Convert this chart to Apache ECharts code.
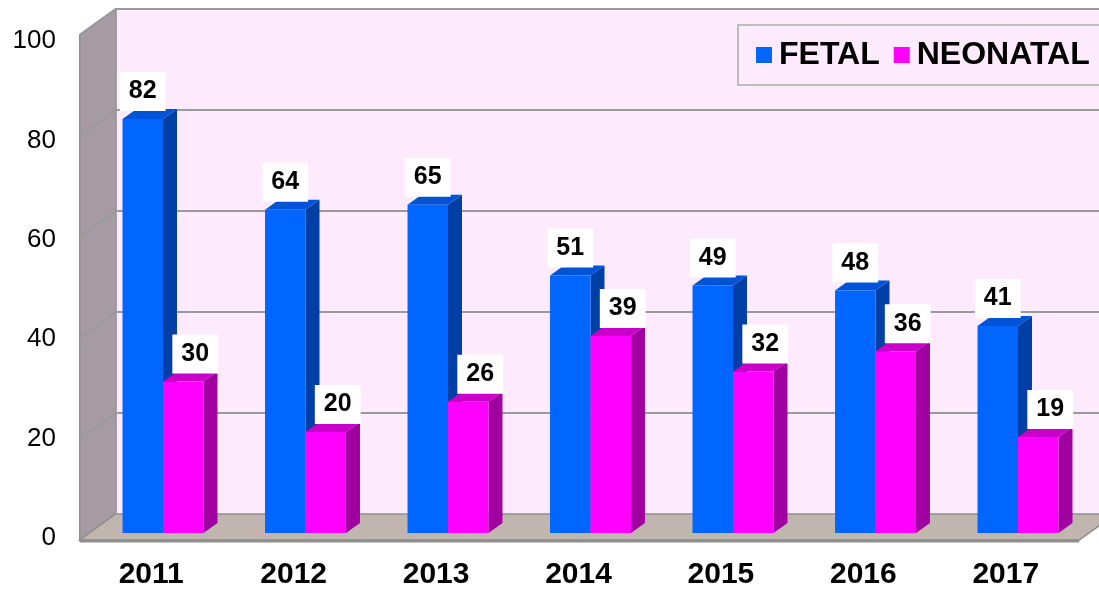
<!DOCTYPE html>
<html>
<head>
<meta charset="utf-8">
<script src="https://cdn.jsdelivr.net/npm/echarts@6/dist/echarts.min.js"></script>
<style>
  html, body { margin: 0; padding: 0; background: #fff; }
  #chart { width: 1099px; height: 590px; }
</style>
</head>
<body>
<div id="chart"></div>
<script>
// Yearly counts of fetal and neonatal deaths
const years = ['2011', '2012', '2013', '2014', '2015', '2016', '2017'];
const fetal = [82, 64, 65, 51, 49, 48, 41];
const neonatal = [30, 20, 26, 39, 32, 36, 19];
const yTicks = [0, 20, 40, 60, 80, 100];

const FONT = '"Liberation Sans", Arial, Helvetica, sans-serif';

// Oblique 3D look: pixel offsets measured from the plane the bar fronts sit in
const FRONT = [-12, 7];      // to the front edge of the box
const BACK = [24, -19];      // to the back wall
const BAR_DEPTH = [14, -10]; // thickness of each bar
const BAR_FRAC = 0.284;      // bar width as a share of one category band

const WALL = { back: '#FDEBFD', left: '#A79BA3', floor: '#C1B6AF', edge: '#8E8E8E', grid: '#9A9A9A' };

function renderBox(params, api) {
  const cs = params.coordSys;
  const yAt = v => api.coord([0, v])[1];
  const xl = cs.x, xr = cs.x + cs.width;
  const fl = xl + FRONT[0], bl = xl + BACK[0];
  const fr = xr - 10, br = fr + (BACK[0] - FRONT[0]);
  const farRight = br + 60;
  const y0 = yAt(0), y100 = yAt(100);
  const children = [];

  children.push({ type: 'polygon', shape: { points: [[bl, y100 + BACK[1]], [farRight, y100 + BACK[1]], [farRight, y0 + BACK[1]], [bl, y0 + BACK[1]]] },
    style: { fill: WALL.back } });
  children.push({ type: 'polygon', shape: { points: [[fl, y100 + FRONT[1]], [bl, y100 + BACK[1]], [bl, y0 + BACK[1]], [fl, y0 + FRONT[1]]] },
    style: { fill: WALL.left, stroke: WALL.edge, lineWidth: 1.5 } });
  children.push({ type: 'polygon', shape: { points: [[fl, y0 + FRONT[1]], [bl, y0 + BACK[1]], [br, y0 + BACK[1]], [fr, y0 + FRONT[1]]] },
    style: { fill: WALL.floor, stroke: WALL.edge, lineWidth: 1.5 } });
  children.push({ type: 'line', shape: { x1: fl, y1: y0 + FRONT[1] + 1, x2: fr, y2: y0 + FRONT[1] + 1 },
    style: { stroke: WALL.edge, lineWidth: 3 } });

  yTicks.forEach(v => {
    if (v === 0) return;
    const y = yAt(v);
    children.push({ type: 'polyline', shape: { points: [[fl, y + FRONT[1]], [bl, y + BACK[1]], [farRight, y + BACK[1]]] },
      style: { stroke: WALL.grid, lineWidth: 2.2, fill: null } });
  });
  children.push({ type: 'line', shape: { x1: bl, y1: y100 + BACK[1], x2: bl, y2: y0 + BACK[1] },
    style: { stroke: WALL.grid, lineWidth: 2 } });

  return { type: 'group', children };
}

function barRenderer(colors, leftSide, labelShift) {
  return function (params, api) {
    const idx = api.value(0), val = api.value(1);
    const base = api.coord([idx, 0]);
    const top = api.coord([idx, val]);
    const w = api.size([1, 0])[0] * BAR_FRAC;
    const x0 = leftSide ? base[0] - w : base[0];
    const x1 = x0 + w;
    const [dx, dy] = BAR_DEPTH;
    const yb = base[1], yt = top[1];
    return {
      type: 'group',
      children: [
        { type: 'polygon', shape: { points: [[x1, yb], [x1 + dx, yb + dy], [x1 + dx, yt + dy], [x1, yt]] },
          style: { fill: colors.side } },
        { type: 'polygon', shape: { points: [[x0, yt], [x0 + dx, yt + dy], [x1 + dx, yt + dy], [x1, yt]] },
          style: { fill: colors.top } },
        { type: 'rect', shape: { x: x0, y: yt, width: w, height: yb - yt },
          style: { fill: colors.front } },
        { type: 'text', z2: 100,
          style: {
            text: String(val), x: (x0 + x1) / 2 + labelShift, y: yt - 8,
            align: 'center', verticalAlign: 'bottom',
            font: 'bold 25px ' + FONT, fill: '#000',
            backgroundColor: '#fff', padding: [7, 9, 7, 9]
          } }
      ]
    };
  };
}

const FETAL_COLORS = { front: '#0066FF', side: '#0040A6', top: '#0052D6' };
const NEO_COLORS = { front: '#FF00FF', side: '#A000A0', top: '#C800C8' };

const chart = echarts.init(document.getElementById('chart'), null, { renderer: 'canvas' });

chart.setOption({
  animation: false,
  backgroundColor: '#fff',
  legend: {
    data: ['FETAL', 'NEONATAL'],
    left: 738, top: 25, width: 700,
    icon: 'rect', itemWidth: 16, itemHeight: 16, itemGap: 14,
    padding: [14, 40, 14, 18],
    backgroundColor: WALL.back, borderColor: '#BDBDBD', borderWidth: 2,
    selectedMode: false,
    textStyle: { fontFamily: FONT, fontWeight: 'bold', fontSize: 32, color: '#000', padding: [0, 0, 0, 2] }
  },
  grid: [
    // plane of the bar fronts
    { left: 91.75, right: 9.75, top: 28, bottom: 57 },
    // front edge of the box, carries the axis labels
    { left: 80, right: 22, top: 41, bottom: 45.5 }
  ],
  xAxis: [
    { gridIndex: 0, type: 'category', data: years, show: false },
    { gridIndex: 1, type: 'category', data: years,
      axisLine: { show: false }, axisTick: { show: false },
      axisLabel: { margin: 22, fontFamily: FONT, fontWeight: 'bold', fontSize: 30, color: '#000' } }
  ],
  yAxis: [
    { gridIndex: 0, type: 'value', min: 0, max: 100, interval: 20, show: false },
    { gridIndex: 1, type: 'value', min: 0, max: 100, interval: 20,
      axisLine: { show: false }, axisTick: { show: false }, splitLine: { show: false },
      axisLabel: { margin: 24, fontFamily: FONT, fontSize: 26, color: '#000' } }
  ],
  series: [
    { type: 'custom', name: 'box', xAxisIndex: 0, yAxisIndex: 0, z: 1, silent: true,
      data: [[0, 0]], renderItem: renderBox },
    { type: 'custom', name: 'FETAL', xAxisIndex: 0, yAxisIndex: 0, z: 2,
      itemStyle: { color: FETAL_COLORS.front },
      encode: { x: 0, y: 1 },
      data: fetal.map((v, i) => [i, v]),
      renderItem: barRenderer(FETAL_COLORS, true, 0) },
    { type: 'custom', name: 'NEONATAL', xAxisIndex: 0, yAxisIndex: 0, z: 2,
      itemStyle: { color: NEO_COLORS.front },
      encode: { x: 0, y: 1 },
      data: neonatal.map((v, i) => [i, v]),
      renderItem: barRenderer(NEO_COLORS, false, 12) }
  ]
});
</script>
</body>
</html>
